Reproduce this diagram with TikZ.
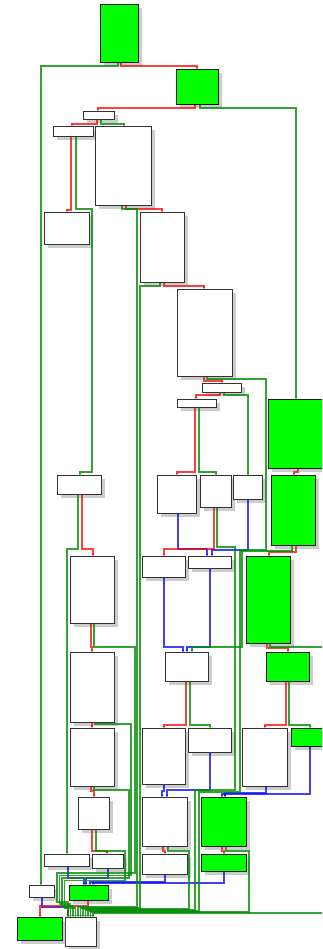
\documentclass[tikz,border=0pt]{standalone}
\usetikzlibrary{arrows.meta,shadows}

\begin{document}
\begin{tikzpicture}[
    x=1pt,y=-1pt,
    block/.style={draw=black!80,line width=1.4pt,fill=white,anchor=north west,
        inner sep=0pt,drop shadow={shadow xshift=3pt,shadow yshift=-3pt,opacity=.4}},
    gblock/.style={block,draw=black!90,fill=green},
    tedge/.style={draw=red,draw opacity=.75,line width=1.1pt,-{Stealth[length=2.2pt,width=2.6pt]}},
    fedge/.style={draw=green!55!black,draw opacity=.8,line width=1.1pt,-{Stealth[length=2.2pt,width=2.6pt]}},
    uedge/.style={draw=blue,draw opacity=.75,line width=1.1pt,-{Stealth[length=2.2pt,width=2.6pt]}}]
    \useasboundingbox (0,0) rectangle (322,949);
    \clip (0,0) rectangle (322,949);
    % basic blocks
    \foreach \n/\x/\y/\w/\h in {blk3/83/111/31/8, blk4/53/126/40/10, blk5/95/126/56/79,
        blk6/44/212/45/32, blk7/140/212/44/70, blk8/177/289/55/87, blk9/202/383/39/9,
        blk10/177/399/39/8, blk12/57/475/44/19, blk13/157/475/39/38, blk14/200/475/31/32,
        blk15/233/475/29/24, blk17/70/556/44/67, blk18/142/556/43/21, blk19/188/556/43/12,
        blk21/165/652/43/29, blk22/70/652/44/70, blk24/70/728/44/58, blk25/142/728/43/56,
        blk26/188/728/43/24, blk27/242/728/45/58, blk29/78/797/31/32, blk30/142/797/45/49,
        blk32/44/854/45/12, blk33/92/854/31/14, blk34/142/854/45/20, blk36/29/885/25/12,
        blk39/65/917/31/29}
        \node[block,minimum width=\w pt,minimum height=\h pt] (\n) at (\x,\y) {};
    \foreach \n/\x/\y/\w/\h in {blk1/100/4/38/58, blk2/176/69/42/35, blk11/268/399/62/69,
        blk16/271/475/44/70, blk20/246/556/44/87, blk23/266/652/43/29, blk28/291/728/44/18,
        blk31/201/797/45/49, blk35/201/854/45/17, blk37/69/885/39/15, blk38/17/917/45/23}
        \node[gblock,minimum width=\w pt,minimum height=\h pt] (\n) at (\x,\y) {};
    % plain branches
    \foreach \s/\a/\ax/\my/\bx/\b in {tedge/blk1/121/66/197/blk2, fedge/blk1/118/66/41/blk36,
        tedge/blk2/195/108/98/blk3, fedge/blk2/200/108/296/blk11,
        tedge/blk3/97/124/72/blk4, fedge/blk3/101/124/124/blk5,
        tedge/blk4/71/210/67/blk6, tedge/blk5/126/209/162/blk7,
        tedge/blk7/164/286/204/blk8, tedge/blk8/204/381/222/blk9,
        tedge/blk9/220/395/196/blk10, fedge/blk9/224/395/248/blk15,
        tedge/blk10/195/472/177/blk13, fedge/blk10/199/472/216/blk14,
        tedge/blk11/298/472/294/blk16, tedge/blk12/82/549/93/blk17,
        fedge/blk12/78/549/67/blk32, uedge/blk13/178/549/207/blk19,
        tedge/blk14/214/549/164/blk18, uedge/blk15/248/550/212/blk19,
        tedge/blk16/296/552/269/blk20, tedge/blk17/91/647/92/blk22,
        uedge/blk18/164/647/183/blk21, uedge/blk19/210/647/187/blk21,
        tedge/blk20/267/648/288/blk23, tedge/blk21/186/725/164/blk25,
        fedge/blk21/190/725/210/blk26, tedge/blk22/92/725/92/blk24,
        tedge/blk23/286/725/265/blk27, fedge/blk23/289/725/310/blk28,
        tedge/blk24/91/791/94/blk29, uedge/blk25/164/791/162/blk30,
        uedge/blk26/210/790/167/blk30, uedge/blk27/266/793/225/blk31,
        uedge/blk28/310/794/222/blk31, tedge/blk29/92/851/107/blk33,
        tedge/blk30/163/851/165/blk34, tedge/blk31/222/851/224/blk35,
        uedge/blk32/68/878/84/blk37, uedge/blk33/108/878/86/blk37,
        uedge/blk34/165/882/90/blk37, uedge/blk35/224/883/93/blk37,
        uedge/blk36/42/907/68/blk39, tedge/blk37/88/906/40/blk38}
        \draw[\s] (\a.south -| \ax,0) |- (\bx,\my) -- (\b.north -| \bx,0);
    % long jumps
    \draw[fedge] (blk4.south -| 76,0) |- (92,209) |- (80,472) -- (blk12.north -| 80,0);
    \draw[fedge] (blk8.south -| 207,0) |- (266,379) |- (242,550) |- (192,647) -- (blk21.north -| 192,0);
    \draw[fedge] (blk17.south -| 94,0) |- (135,647) |- (57,873) |- (68,902) -- (blk39.north -| 68,0);
    \draw[fedge] (blk22.south -| 95,0) |- (131,724) |- (59.5,875.5) |- (70.5,904) -- (blk39.north -| 70.5,0);
    \draw[fedge] (blk24.south -| 94,0) |- (129,790) |- (62,878) |- (73,906) -- (blk39.north -| 73,0);
    \draw[fedge] (blk29.south -| 96,0) |- (125,851) |- (64.5,880.5) |- (75.5,908) -- (blk39.north -| 75.5,0);
    \draw[fedge] (blk5.south -| 122,0) |- (137,209) |- (78,907) -- (blk39.north -| 78,0);
    \draw[fedge] (blk7.south -| 160,0) |- (140,286) |- (80.5,908) -- (blk39.north -| 80.5,0);
    \draw[fedge] (blk30.south -| 168,0) |- (189,851) |- (83,909) -- (blk39.north -| 83,0);
    \draw[fedge] (blk14.south -| 217,0) |- (235,547) |- (195,790) |- (85.5,910) -- (blk39.north -| 85.5,0);
    \draw[fedge] (blk16.south -| 292,0) |- (240,551) |- (199,792) |- (88,911) -- (blk39.north -| 88,0);
    \draw[fedge] (blk31.south -| 226,0) |- (249,851) |- (90.5,912) -- (blk39.north -| 90.5,0);
    \draw[fedge] (blk20.south -| 270,0) |- (330,647) |- (93,913) -- (blk39.north -| 93,0);
\end{tikzpicture}
\end{document}
